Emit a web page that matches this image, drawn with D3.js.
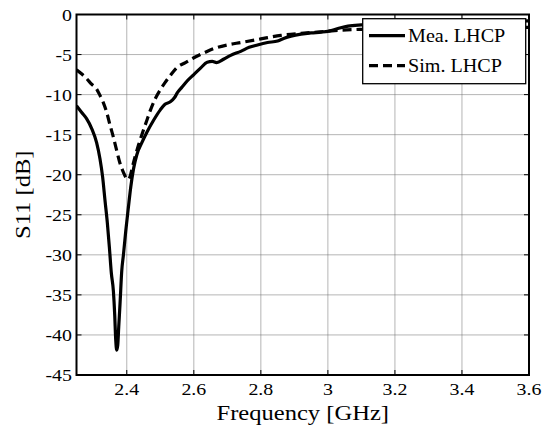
<!DOCTYPE html>
<html><head><meta charset="utf-8">
<script src="https://cdn.jsdelivr.net/npm/d3@7/dist/d3.min.js"></script>
<style>html,body{margin:0;padding:0;background:#fff;}svg{display:block;}</style>
</head><body>
<svg id="c" width="549" height="428"></svg>
<script>
const freqMea = [2.25,2.265,2.28,2.295,2.31,2.32,2.328,2.335,2.342,2.348,2.354,2.36,2.364,2.367,2.37,2.373,2.376,2.38,2.385,2.39,2.397,2.405,2.412,2.42,2.43,2.445,2.46,2.48,2.5,2.514,2.53,2.542,2.552,2.564,2.58,2.6,2.62,2.64,2.655,2.668,2.69,2.71,2.74,2.765,2.79,2.82,2.85,2.87,2.89,2.92,2.95,2.98,3.0,3.03,3.06,3.1,3.15,3.2,3.3,3.4,3.5,3.6];
const meaLHCP = [-11.4,-12.2,-13.0,-14.2,-16.0,-18.0,-20.3,-23.2,-26.0,-29.0,-32.3,-34.5,-37.5,-40.6,-41.9,-41.3,-39.0,-36.0,-32.0,-30.0,-27.0,-24.0,-21.5,-19.3,-17.5,-16.0,-14.7,-13.2,-11.9,-11.2,-10.9,-10.4,-9.7,-9.1,-8.3,-7.5,-6.7,-5.95,-5.85,-6.0,-5.55,-5.1,-4.6,-4.1,-3.8,-3.5,-3.3,-2.95,-2.7,-2.45,-2.3,-2.2,-2.1,-1.75,-1.45,-1.3,-1.2,-1.1,-1.0,-0.9,-0.85,-0.8];
const freqSim = [2.25,2.265,2.28,2.295,2.31,2.32,2.33,2.34,2.35,2.36,2.37,2.38,2.39,2.398,2.404,2.41,2.417,2.425,2.435,2.445,2.46,2.47,2.484,2.5,2.514,2.53,2.55,2.575,2.6,2.63,2.66,2.7,2.74,2.8,2.86,2.92,2.98,3.04,3.1,3.2,3.3,3.4,3.5,3.6];
const simLHCP = [-6.9,-7.4,-8.0,-8.7,-9.3,-10.1,-11.0,-12.2,-13.8,-15.3,-17.0,-18.6,-19.7,-20.4,-20.6,-20.2,-19.0,-17.7,-16.3,-15.0,-13.2,-12.0,-10.6,-9.4,-8.5,-7.6,-6.6,-6.0,-5.4,-4.8,-4.25,-3.8,-3.5,-3.05,-2.6,-2.35,-2.15,-1.95,-1.85,-1.75,-1.7,-1.65,-1.6,-1.6];
const xTicks = [2.4,2.6,2.8,3.0,3.2,3.4,3.6];
const xTickLabels = ["2.4","2.6","2.8","3","3.2","3.4","3.6"];
const yTicks = [0,-5,-10,-15,-20,-25,-30,-35,-40,-45];
const yTickLabels = ["0","-5","-10","-15","-20","-25","-30","-35","-40","-45"];
const seriesNames = ["Mea. LHCP","Sim. LHCP"];
const xLabel = "Frequency [GHz]";
const yLabel = "S11 [dB]";

const L = 76.5, R = 529, T = 14.5, B = 375;
const x = d3.scaleLinear().domain([2.25, 3.6]).range([L, R]);
const y = d3.scaleLinear().domain([-45, 0]).range([B, T]);
const svg = d3.select("#c");
const FONT = "'Liberation Serif','Times New Roman',serif";
const SX = 1.17;

function txt(g, str, px, py, size, anchor, sx, rot) {
  g.append("text")
    .attr("transform", `translate(${px},${py})` + (rot ? ` rotate(${rot})` : "") + ` scale(${sx},1)`)
    .attr("text-anchor", anchor)
    .attr("font-family", FONT)
    .attr("font-size", size)
    .attr("fill", "#000")
    .text(str);
}

svg.append("defs").append("clipPath").attr("id","clip")
  .append("rect").attr("x", L).attr("y", T).attr("width", R - L).attr("height", B - T);

// grid
const grid = svg.append("g");
xTicks.forEach(t => grid.append("line").attr("x1", x(t)).attr("x2", x(t)).attr("y1", T).attr("y2", B)
  .attr("stroke", "#6a6a6a").attr("stroke-width", 1).attr("stroke-dasharray", "1,1"));
yTicks.forEach(t => grid.append("line").attr("x1", L).attr("x2", R).attr("y1", y(t)).attr("y2", y(t))
  .attr("stroke", "#6a6a6a").attr("stroke-width", 1).attr("stroke-dasharray", "1,1"));

// ticks (inside)
const tk = svg.append("g").attr("stroke", "#000").attr("stroke-width", 1);
xTicks.forEach(t => {
  tk.append("line").attr("x1", x(t)).attr("x2", x(t)).attr("y1", B).attr("y2", B - 5);
  tk.append("line").attr("x1", x(t)).attr("x2", x(t)).attr("y1", T).attr("y2", T + 5);
});
yTicks.forEach(t => {
  tk.append("line").attr("x1", L).attr("x2", L + 5).attr("y1", y(t)).attr("y2", y(t));
  tk.append("line").attr("x1", R).attr("x2", R - 5).attr("y1", y(t)).attr("y2", y(t));
});

// curves
const plot = svg.append("g").attr("clip-path", "url(#clip)");
const line = d3.line().x(d => x(d[0])).y(d => y(d[1])).curve(d3.curveMonotoneX);
plot.append("path").datum(freqSim.map((f, i) => [f, simLHCP[i]]))
  .attr("d", line).attr("fill", "none").attr("stroke", "#000").attr("stroke-width", 3.2)
  .attr("stroke-dasharray", "9,5");
plot.append("path").datum(freqMea.map((f, i) => [f, meaLHCP[i]]))
  .attr("d", line).attr("fill", "none").attr("stroke", "#000").attr("stroke-width", 3.2)
  .attr("stroke-linejoin", "round");

// axes box
svg.append("rect").attr("x", L).attr("y", T).attr("width", R - L).attr("height", B - T)
  .attr("fill", "none").attr("stroke", "#000").attr("stroke-width", 2);

// tick labels
const lab = svg.append("g");
xTicks.forEach((t, i) => txt(lab, xTickLabels[i], x(t), 395, 17, "middle", SX));
yTicks.forEach((t, i) => txt(lab, yTickLabels[i], 72, y(t) + 6, 17, "end", SX));

// axis labels
txt(lab, xLabel, (L + R) / 2, 420, 21, "middle", SX);
txt(lab, yLabel, 30, (T + B) / 2, 21, "middle", SX, -90);

// legend
const lg = svg.append("g");
lg.append("rect").attr("x", 362.7).attr("y", 18.7).attr("width", 163).attr("height", 65)
  .attr("fill", "#fff").attr("stroke", "#000").attr("stroke-width", 1.3);
const rows = [35.7, 65.7];
lg.append("line").attr("x1", 369).attr("x2", 405).attr("y1", rows[0]).attr("y2", rows[0])
  .attr("stroke", "#000").attr("stroke-width", 3.2);
lg.append("line").attr("x1", 369).attr("x2", 405).attr("y1", rows[1]).attr("y2", rows[1])
  .attr("stroke", "#000").attr("stroke-width", 3.2).attr("stroke-dasharray", "9,5");
seriesNames.forEach((s, i) => txt(lg, s, 408, rows[i] + 6.5, 19, "start", 1.06));
</script>
</body></html>
